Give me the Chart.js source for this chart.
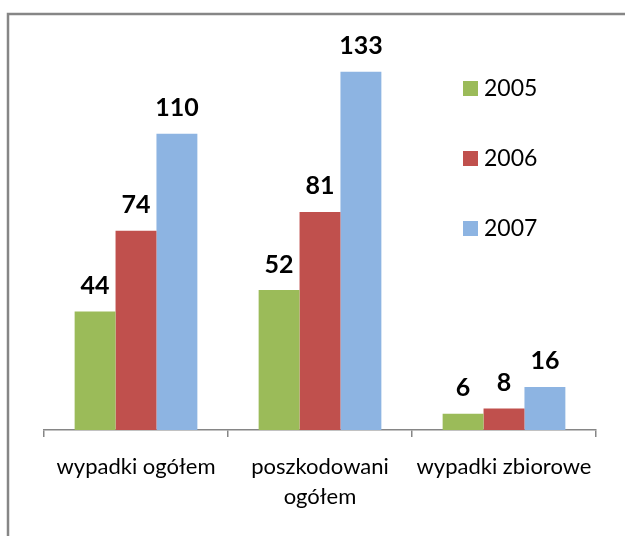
<!DOCTYPE html>
<html>
<head>
<meta charset="utf-8">
<script src="https://cdn.jsdelivr.net/npm/chart.js@4"></script>
<style>
  html, body { margin: 0; padding: 0; background: #fff; }
  #wrap { width: 625px; height: 536px; position: relative; }
</style>
</head>
<body>
<div id="wrap"><canvas id="accidentsChart" width="625" height="536"></canvas></div>
<script>
const categories = ["wypadki ogółem", ["poszkodowani", "ogółem"], "wypadki zbiorowe"];
const years = ["2005", "2006", "2007"];
const values2005 = [44, 52, 6];
const values2006 = [74, 81, 8];
const values2007 = [110, 133, 16];
const colors = ["#9BBB59", "#C0504D", "#8DB4E2"];

const FONT = "Lato, 'Open Sans', sans-serif";

// frame around the chart (only top/left visible in the picture)
const framePlugin = {
  id: "frame",
  beforeDraw(chart) {
    const ctx = chart.ctx;
    ctx.save();
    ctx.strokeStyle = "#868686";
    ctx.lineWidth = 2.5;
    ctx.strokeRect(8, 14, 700, 600);
    ctx.restore();
  }
};

// bold values above the bars
const valueLabels = {
  id: "valueLabels",
  afterDatasetsDraw(chart) {
    const ctx = chart.ctx;
    ctx.save();
    ctx.font = "bold 25px " + FONT;
    ctx.fillStyle = "#000";
    ctx.textAlign = "center";
    ctx.textBaseline = "bottom";
    chart.data.datasets.forEach((ds, i) => {
      chart.getDatasetMeta(i).data.forEach((bar, j) => {
        ctx.fillText(ds.data[j], bar.x, bar.y - 13);
      });
    });
    ctx.restore();
  }
};

// legend sits inside the plot area on the right
const insideLegend = {
  id: "insideLegend",
  afterDraw(chart) {
    const ctx = chart.ctx;
    ctx.save();
    ctx.font = "23px " + FONT;
    ctx.textBaseline = "middle";
    chart.data.datasets.forEach((ds, i) => {
      const y = 88 + i * 70;
      ctx.fillStyle = ds.backgroundColor;
      ctx.fillRect(463, y - 7, 15, 15);
      ctx.fillStyle = "#000";
      ctx.fillText(ds.label, 484, y + 1);
    });
    ctx.restore();
  }
};

new Chart(document.getElementById("accidentsChart"), {
  type: "bar",
  data: {
    labels: categories,
    datasets: [
      { label: years[0], data: values2005, backgroundColor: colors[0] },
      { label: years[1], data: values2006, backgroundColor: colors[1] },
      { label: years[2], data: values2007, backgroundColor: colors[2] }
    ]
  },
  options: {
    responsive: false,
    animation: false,
    devicePixelRatio: 1,
    layout: { padding: { left: 44, right: 29, top: 53, bottom: 0 } },
    datasets: { bar: { categoryPercentage: 0.667, barPercentage: 1 } },
    plugins: { legend: { display: false }, tooltip: { enabled: false } },
    scales: {
      x: {
        grid: {
          offset: true,
          drawOnChartArea: false,
          drawTicks: true,
          tickLength: 7,
          color: "#868686",
          lineWidth: 1.5
        },
        border: { display: true, color: "#868686", width: 1.5 },
        ticks: {
          color: "#000",
          font: { family: FONT, size: 22, lineHeight: 1.35 },
          padding: 15,
          maxRotation: 0,
          autoSkip: false
        },
        afterFit(scale) { scale.height = 106; }
      },
      y: {
        display: false,
        min: 0,
        max: 140
      }
    }
  },
  plugins: [framePlugin, valueLabels, insideLegend]
});
</script>
</body>
</html>
